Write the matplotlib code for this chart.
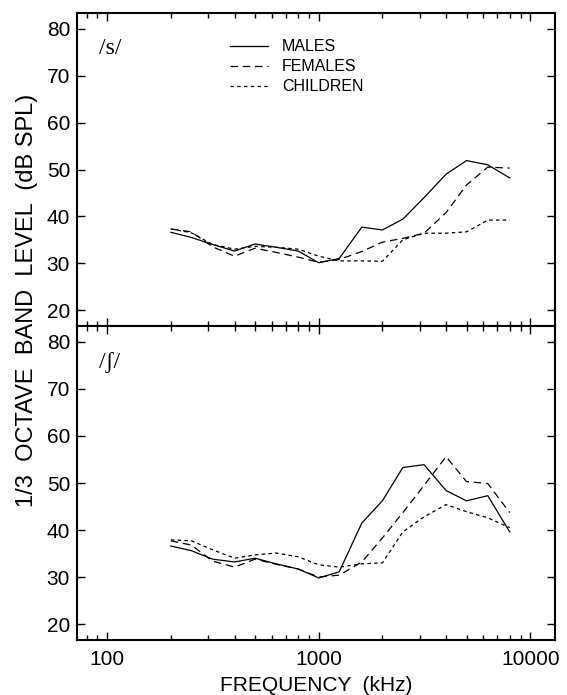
import matplotlib
matplotlib.use("Agg")
import matplotlib.pyplot as plt
from matplotlib.ticker import LogLocator, FixedLocator, NullFormatter, FixedFormatter

freqs = [200, 250, 315, 400, 500, 630, 800, 1000, 1250, 1600, 2000, 2500, 3150, 4000, 5000, 6300, 8000]

s_males    = [36.6, 35.5, 34.0, 32.6, 34.1, 33.4, 32.6, 30.1, 31.0, 37.7, 37.1, 39.4, 44.0, 49.0, 51.9, 51.0, 48.2]
s_females  = [37.3, 36.7, 33.5, 31.5, 33.2, 32.3, 31.3, 30.2, 30.8, 32.5, 34.5, 35.3, 36.4, 40.8, 46.7, 50.5, 50.3]
s_children = [37.3, 36.5, 34.0, 33.0, 33.6, 33.4, 33.0, 31.5, 30.5, 30.5, 30.4, 35.0, 36.4, 36.4, 36.7, 39.2, 39.2]

sh_males    = [36.6, 35.6, 33.8, 33.2, 34.0, 32.8, 31.7, 29.8, 31.1, 41.5, 46.2, 53.3, 53.9, 48.4, 46.2, 47.3, 39.6]
sh_females  = [37.7, 36.8, 33.4, 32.1, 33.8, 32.7, 31.7, 30.0, 30.4, 33.2, 38.3, 43.7, 49.5, 55.6, 50.3, 49.9, 43.7]
sh_children = [37.9, 37.7, 35.8, 34.0, 34.7, 35.1, 34.3, 32.6, 32.1, 32.8, 33.0, 39.6, 42.8, 45.4, 43.9, 42.6, 40.5]

series_names = ["MALES", "FEMALES", "CHILDREN"]
y_ticks = [20, 30, 40, 50, 60, 70, 80]
x_ticks = [100, 1000, 10000]
x_ticklabels = ["100", "1000", "10000"]

SANS = ["Liberation Sans", "DejaVu Sans"]
SERIF = ["Liberation Serif", "DejaVu Serif"]

fig = plt.figure(figsize=(5.67, 6.95), dpi=100)
left, right = 77 / 567, 555 / 567
ax1 = fig.add_axes([left, 1 - 326 / 695, right - left, (326 - 13) / 695])
ax2 = fig.add_axes([left, 1 - 640 / 695, right - left, (640 - 326) / 695])

styles = [dict(linestyle="-"), dict(linestyle=(0, (6.0, 3.8))), dict(linestyle=(0, (2.8, 2.6)))]

for ax, data, lab in [(ax1, (s_males, s_females, s_children), "/s/"),
                      (ax2, (sh_males, sh_females, sh_children), "/\u0283/")]:
    for vals, st, name in zip(data, styles, series_names):
        ax.plot(freqs, vals, color="black", linewidth=0.9, label=name, **st)
    ax.set_xscale("log")
    ax.set_xlim(72, 13100)
    ax.set_ylim(16.6, 83.4)
    ax.xaxis.set_major_locator(FixedLocator(x_ticks))
    ax.xaxis.set_minor_locator(LogLocator(base=10, subs=range(2, 10)))
    ax.xaxis.set_minor_formatter(NullFormatter())
    ax.yaxis.set_major_locator(FixedLocator(y_ticks))
    ax.tick_params(which="both", direction="in", top=True, right=True, width=1.0)
    ax.tick_params(which="major", length=6, labelsize=15, pad=5)
    ax.tick_params(which="minor", length=3.5)
    for lbl in ax.get_yticklabels():
        lbl.set_family(SANS)
    for sp in ax.spines.values():
        sp.set_linewidth(1.5)
    ax.text(0.047, 0.885, lab, transform=ax.transAxes, fontsize=17, family=SERIF,
            ha="left", va="center")

ax1.xaxis.set_major_formatter(NullFormatter())
ax2.xaxis.set_major_formatter(FixedFormatter(x_ticklabels))
ax2.tick_params(axis="x", which="major", pad=7)
for lbl in ax2.get_xticklabels():
    lbl.set_family(SANS)

leg = ax1.legend(loc="upper left", bbox_to_anchor=(0.289, 0.962), frameon=False,
                 handlelength=2.4, handletextpad=0.9, labelspacing=0.32,
                 prop=dict(family=SANS, size=11.5))

ax2.set_xlabel("FREQUENCY  (kHz)", fontsize=15, family=SANS, labelpad=5)
fig.text(0.048, 1 - 300 / 695, "1/3  OCTAVE  BAND  LEVEL  (dB SPL)", rotation=90,
         fontsize=17, family=SANS, ha="center", va="center")

fig.savefig("out.png", dpi=100)
